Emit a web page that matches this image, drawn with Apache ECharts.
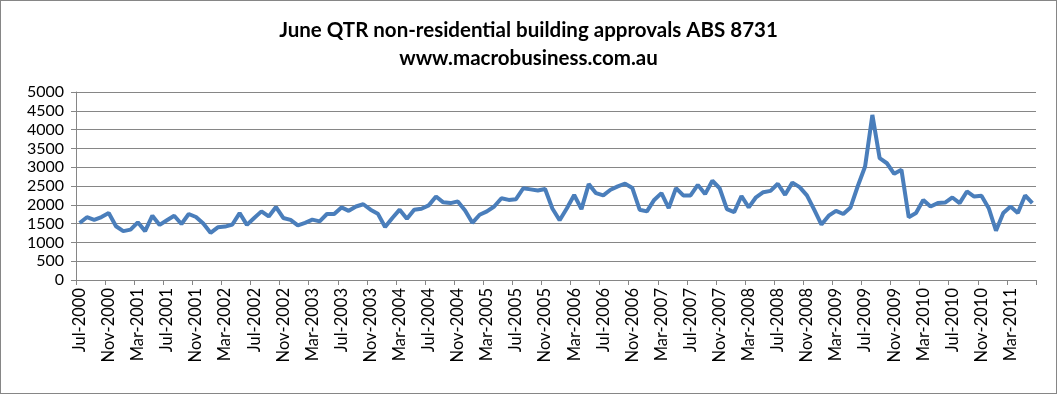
<!DOCTYPE html>
<html><head><meta charset="utf-8">
<script src="https://cdn.jsdelivr.net/npm/echarts@6/dist/echarts.min.js"></script>
<style>
html,body{margin:0;padding:0;background:#fff;}
#c{width:1055px;height:392px;border:1px solid #868686;}
</style></head><body>
<div id="c"></div>
<script>
const titleLines = ['June QTR non-residential building approvals ABS 8731', 'www.macrobusiness.com.au'];
const startYear = 2000, startMonth = 6; // Jul-2000 (0-based month)
const monthNames = ['Jan','Feb','Mar','Apr','May','Jun','Jul','Aug','Sep','Oct','Nov','Dec'];
const approvals = [
 1515,1670,1600,1675,1780,1430,1300,1340,1535,1300,1710,1465,
 1590,1710,1490,1755,1675,1500,1255,1400,1420,1475,1780,1465,
 1650,1825,1690,1940,1650,1600,1455,1520,1605,1560,1755,1755,
 1930,1840,1955,2015,1870,1765,1410,1650,1870,1630,1870,1895,
 1985,2220,2065,2045,2090,1850,1520,1735,1825,1955,2175,2130,
 2150,2440,2410,2380,2420,1900,1590,1910,2260,1885,2550,2310,
 2250,2400,2490,2560,2445,1870,1825,2130,2310,1910,2445,2250,
 2250,2530,2285,2640,2440,1885,1805,2235,1930,2200,2335,2370,
 2560,2265,2590,2470,2250,1870,1475,1710,1840,1755,1930,2500,
 3020,4390,3240,3105,2825,2930,1670,1780,2130,1955,2045,2060,
 2195,2045,2355,2220,2240,1910,1310,1780,1955,1780,2250,2045
];
const months = approvals.map((_, i) => {
  const m = startMonth + i;
  return monthNames[m % 12] + '-' + (startYear + Math.floor(m / 12));
});
const chart = echarts.init(document.getElementById('c'));
chart.setOption({
  animation: false,
  title: {
    text: titleLines.join('\n'),
    left: 'center', top: 10,
    textStyle: {fontFamily: 'Lato', fontWeight: 'bold', fontSize: 20.5, color: '#000', lineHeight: 28}
  },
  grid: {left: 75, right: 20, top: 91, bottom: 113},
  xAxis: {
    type: 'category', data: months, boundaryGap: true,
    axisLine: {lineStyle: {color: '#868686'}},
    axisTick: {show: true, interval: 3, length: 5, lineStyle: {color: '#868686'}},
    axisLabel: {interval: 3, rotate: 90, fontFamily: 'Lato', fontSize: 16.5, color: '#000', margin: 8}
  },
  yAxis: {
    type: 'value', min: 0, max: 5000, interval: 500,
    axisLine: {show: true, lineStyle: {color: '#868686'}},
    axisTick: {show: true, length: 5, lineStyle: {color: '#868686'}},
    splitLine: {lineStyle: {color: '#868686', width: 1}},
    axisLabel: {fontFamily: 'Lato', fontSize: 16, color: '#000', margin: 12, formatter: v => String(v)}
  },
  series: [{
    type: 'line', data: approvals, showSymbol: false,
    lineStyle: {color: '#4A7EBB', width: 4}
  }]
});
</script>
</body></html>
